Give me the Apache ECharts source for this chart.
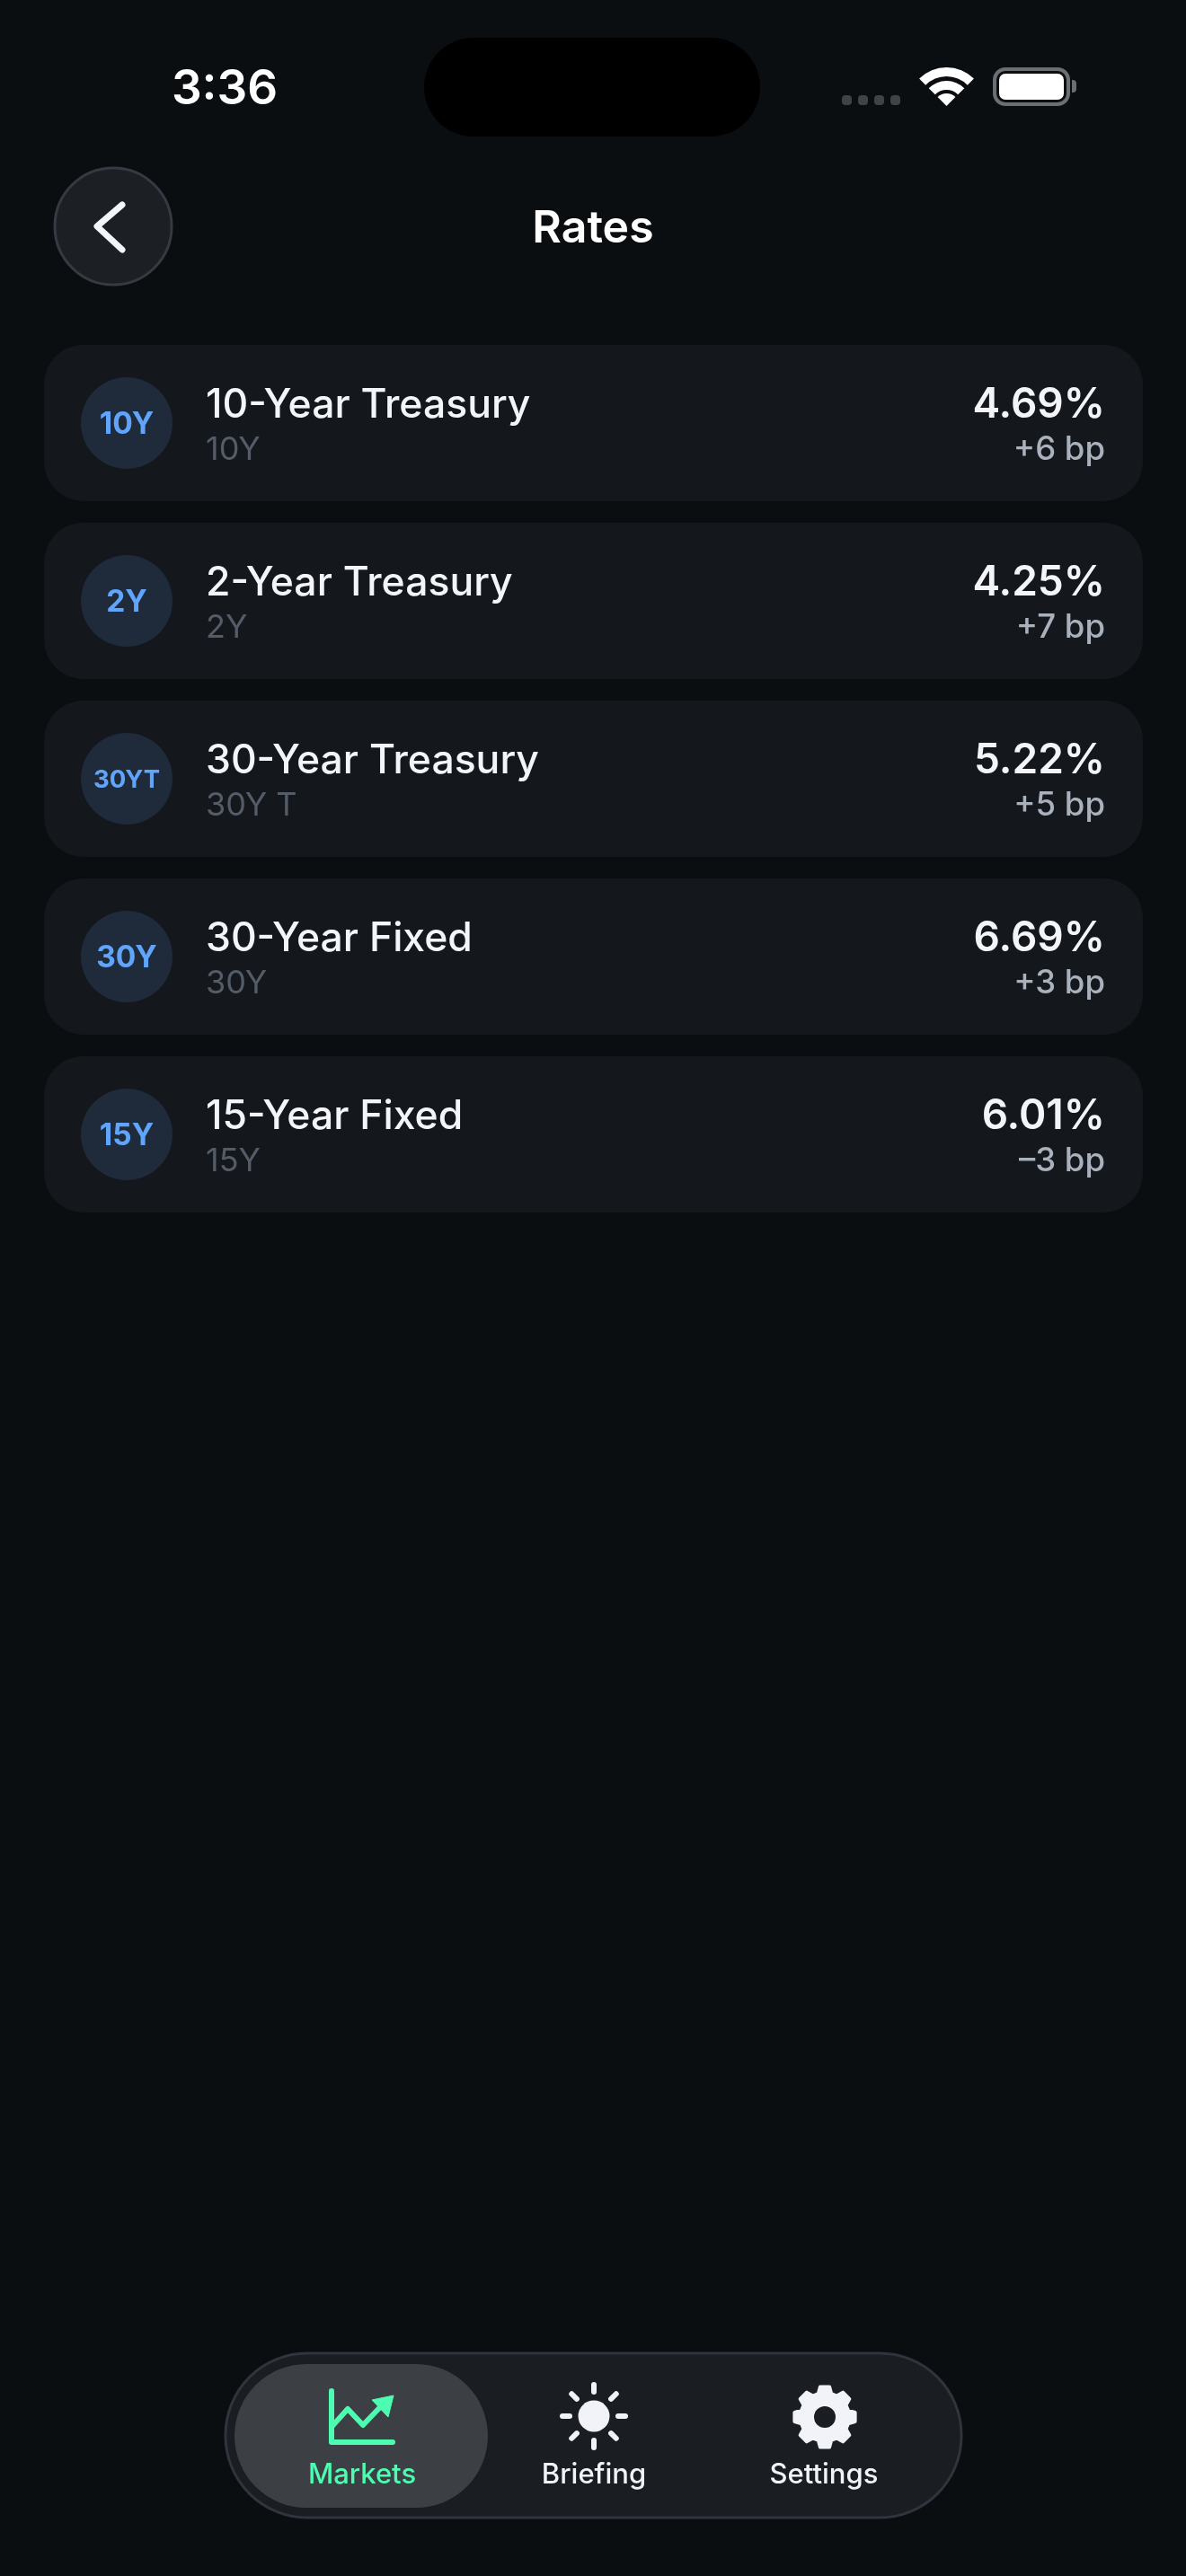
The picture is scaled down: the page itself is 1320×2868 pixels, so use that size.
<!DOCTYPE html>
<html>
<head>
<meta charset="utf-8">
<title>Rates</title>
<style>
html,body{margin:0;padding:0;background:#0a0e11;}
#main{width:1320px;height:2868px;}
</style>
<script src="https://cdn.jsdelivr.net/npm/echarts@6/dist/echarts.min.js"></script>
</head>
<body>
<div id="main"></div>
<script>
// data
var names = ['10-Year Treasury', '2-Year Treasury', '30-Year Treasury', '30-Year Fixed', '15-Year Fixed'];
var badges = ['10Y', '2Y', '30YT', '30Y', '15Y'];
var tickers = ['10Y', '2Y', '30Y T', '30Y', '15Y'];
var rates = [4.69, 4.25, 5.22, 6.69, 6.01];
var changes = [6, 7, 5, 3, -3];
var tabs = ['Markets', 'Briefing', 'Settings'];

var FONT = 'Inter, "Noto Sans", sans-serif';
var chart = echarts.init(document.getElementById('main'));

function bpText(v) {
    return (v < 0 ? '\u2013' : '+') + Math.abs(v) + ' bp';
}

function label(x, y, text, size, weight, color, align) {
    return {
        type: 'text',
        x: x, y: y,
        silent: true,
        style: {
            text: text,
            fill: color,
            font: weight + ' ' + size + 'px ' + FONT,
            textAlign: align || 'left',
            textVerticalAlign: 'middle'
        }
    };
}

// one row of the list, y comes from the category axis
function renderRow(params, api) {
    var i = api.value(0);
    var cy = api.coord([0, i])[1];
    var left = 49, right = 1272;
    return {
        type: 'group',
        children: [
            {type: 'rect', shape: {x: left, y: cy - 87, width: right - left, height: 174, r: 44}, style: {fill: '#14181d'}},
            {type: 'circle', shape: {cx: 141, cy: cy, r: 51}, style: {fill: '#1f2a3a'}},
            label(141, cy + 2, badges[i], badges[i].length > 3 ? 27.5 : 33.5, 700, '#60a5fa', 'center'),
            label(229, cy - 19.5, names[i], 44.5, 500, '#f3f5f8'),
            label(229, cy + 30.5, tickers[i], 36, 400, '#545c68'),
            label(1230, cy - 19.5, rates[i].toFixed(2) + '%', 46, 600, '#f3f5f8', 'right'),
            label(1230, cy + 30.5, bpText(changes[i]), 36.5, 500, '#a9b1bd', 'right')
        ]
    };
}

function gearPoints(cx, cy) {
    var pts = [], teeth = 8;
    var shape = [[27, -0.27], [34, -0.15], [34, 0.15], [27, 0.27]];
    for (var t = 0; t < teeth; t++) {
        var a = -Math.PI / 2 + t * 2 * Math.PI / teeth;
        shape.forEach(function (p) {
            pts.push([cx + p[0] * Math.cos(a + p[1]), cy + p[0] * Math.sin(a + p[1])]);
        });
    }
    return pts;
}

function sunRays(cx, cy) {
    var list = [];
    for (var t = 0; t < 8; t++) {
        var a = t * Math.PI / 4;
        list.push({
            type: 'line',
            shape: {
                x1: cx + 27 * Math.cos(a), y1: cy + 27 * Math.sin(a),
                x2: cx + 35 * Math.cos(a), y2: cy + 35 * Math.sin(a)
            },
            style: {stroke: '#f1f3f8', lineWidth: 6, lineCap: 'round'}
        });
    }
    return list;
}

var statusBar = [
    label(250, 100, '3:36', 53, 600, '#ffffff', 'center'),
    {type: 'rect', shape: {x: 472, y: 42, width: 374, height: 110, r: 55}, style: {fill: '#000000'}},
    {type: 'rect', shape: {x: 937, y: 106, width: 11, height: 11, r: 4}, style: {fill: '#3f4247'}},
    {type: 'rect', shape: {x: 955, y: 106, width: 11, height: 11, r: 4}, style: {fill: '#3f4247'}},
    {type: 'rect', shape: {x: 973, y: 106, width: 11, height: 11, r: 4}, style: {fill: '#3f4247'}},
    {type: 'rect', shape: {x: 991, y: 106, width: 11, height: 11, r: 4}, style: {fill: '#3f4247'}},
    {type: 'sector', shape: {cx: 1053.5, cy: 118, r0: 33, r: 43, startAngle: -Math.PI * 0.75, endAngle: -Math.PI * 0.25}, style: {fill: '#fff'}},
    {type: 'sector', shape: {cx: 1053.5, cy: 118, r0: 18, r: 28, startAngle: -Math.PI * 0.75, endAngle: -Math.PI * 0.25}, style: {fill: '#fff'}},
    {type: 'sector', shape: {cx: 1053.5, cy: 118, r0: 0, r: 14, startAngle: -Math.PI * 0.75, endAngle: -Math.PI * 0.25}, style: {fill: '#fff'}},
    {type: 'rect', shape: {x: 1107, y: 77, width: 82, height: 39, r: 12}, style: {fill: 'none', stroke: '#6b6e73', lineWidth: 4}},
    {type: 'rect', shape: {x: 1112, y: 82, width: 72, height: 29, r: 7}, style: {fill: '#fff'}},
    {type: 'rect', shape: {x: 1193, y: 89, width: 5, height: 14, r: [0, 4, 4, 0]}, style: {fill: '#6b6e73'}}
];

var header = [
    {type: 'circle', shape: {cx: 126, cy: 252, r: 65}, style: {fill: '#1c1f24', stroke: '#353b43', lineWidth: 3}},
    {type: 'polyline', shape: {points: [[136, 228], [108, 252], [136, 278]]}, style: {fill: 'none', stroke: '#f3f5f8', lineWidth: 7, lineCap: 'round', lineJoin: 'round'}},
    label(660, 255, 'Rates', 50, 600, '#ffffff', 'center')
];

var tabBar = [
    {type: 'rect', shape: {x: 251, y: 2620, width: 819, height: 183, r: 91}, style: {fill: '#1a1d21', stroke: '#2f353c', lineWidth: 3}},
    {type: 'rect', shape: {x: 261, y: 2632, width: 282, height: 160, r: 80}, style: {fill: '#3c3f44'}},
    // chart icon
    {type: 'polyline', shape: {points: [[369, 2662], [369, 2719], [437, 2719]]}, style: {fill: 'none', stroke: '#4dfcb0', lineWidth: 6, lineCap: 'round', lineJoin: 'round'}},
    {type: 'polyline', shape: {points: [[369, 2702], [387, 2682], [404, 2700], [425, 2678]]}, style: {fill: 'none', stroke: '#4dfcb0', lineWidth: 6, lineJoin: 'round'}},
    {type: 'polygon', shape: {points: [[414, 2672], [438, 2667], [432, 2691]]}, style: {fill: '#4dfcb0', stroke: '#4dfcb0', lineWidth: 1, lineJoin: 'round'}},
    label(403, 2756, tabs[0], 31, 500, '#4dfcb0', 'center'),
    // sun icon
    {type: 'circle', shape: {cx: 661, cy: 2690, r: 17.5}, style: {fill: '#f1f3f8'}}
].concat(sunRays(661, 2690), [
    label(661, 2756, tabs[1], 31, 500, '#f1f3f8', 'center'),
    // gear icon
    {type: 'polygon', shape: {points: gearPoints(918, 2691)}, style: {fill: '#f1f3f8', stroke: '#f1f3f8', lineWidth: 4, lineJoin: 'round'}},
    {type: 'circle', shape: {cx: 918, cy: 2691, r: 12}, style: {fill: '#1a1d21'}},
    label(917, 2756, tabs[2], 31, 500, '#f1f3f8', 'center')
]);

var option = {
    backgroundColor: '#0a0e11',
    animation: false,
    grid: {left: 0, right: 0, top: 372, height: 990},
    xAxis: {type: 'value', show: false, min: 0, max: 1},
    yAxis: {type: 'category', show: false, inverse: true, data: names},
    series: [{
        type: 'custom',
        silent: true,
        clip: false,
        renderItem: renderRow,
        encode: {x: 1, y: 0},
        data: names.map(function (n, i) { return [i, rates[i], changes[i]]; })
    }],
    graphic: {elements: statusBar.concat(header, tabBar)}
};
chart.setOption(option);
</script>
</body>
</html>
